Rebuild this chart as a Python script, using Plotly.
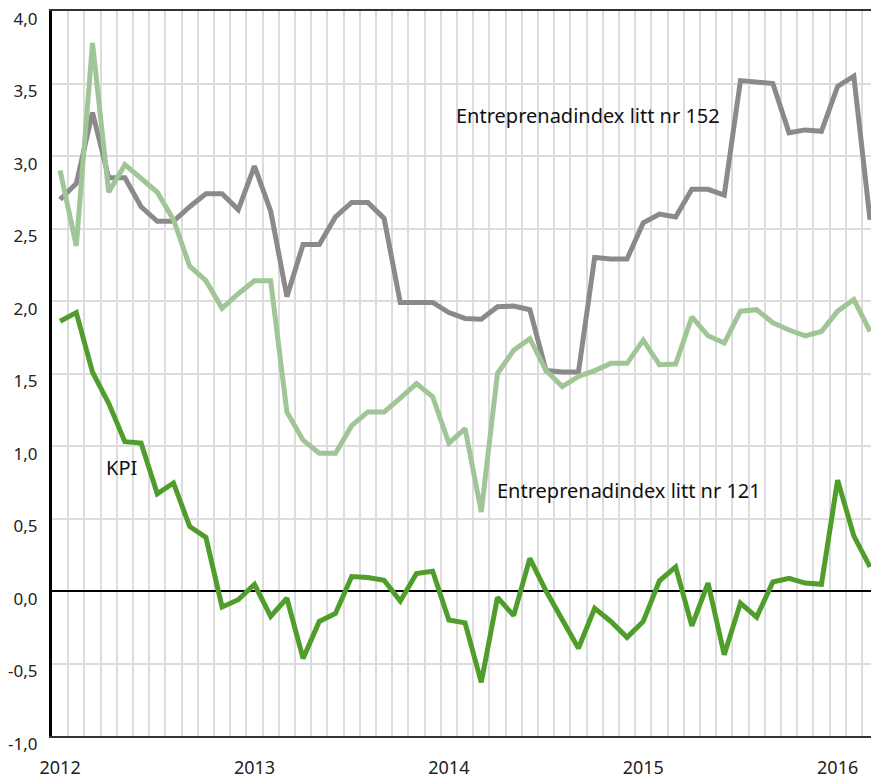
import plotly.graph_objects as go

months = list(range(51))  # Jan 2012 .. Mar 2016

idx152 = [2.70, 2.81, 3.30, 2.85, 2.85, 2.65, 2.55, 2.55, 2.65, 2.74, 2.74, 2.63,
          2.93, 2.62, 2.03, 2.39, 2.39, 2.58, 2.68, 2.68, 2.57, 1.99, 1.99, 1.99,
          1.92, 1.88, 1.875, 1.96, 1.965, 1.94, 1.52, 1.51, 1.51, 2.30, 2.29, 2.29,
          2.54, 2.60, 2.58, 2.77, 2.77, 2.73, 3.52, 3.51, 3.50, 3.16, 3.18, 3.17,
          3.48, 3.55, 2.56]

idx121 = [2.90, 2.38, 3.78, 2.75, 2.94, 2.85, 2.75, 2.56, 2.24, 2.14, 1.95, 2.05,
          2.14, 2.14, 1.235, 1.04, 0.95, 0.95, 1.14, 1.235, 1.235, 1.33, 1.43, 1.34,
          1.02, 1.12, 0.545, 1.50, 1.66, 1.74, 1.52, 1.41, 1.48, 1.52, 1.57, 1.57,
          1.73, 1.56, 1.565, 1.89, 1.76, 1.71, 1.93, 1.94, 1.85, 1.80, 1.76, 1.79,
          1.93, 2.01, 1.79]

kpi = [1.86, 1.92, 1.51, 1.295, 1.03, 1.02, 0.67, 0.745, 0.445, 0.37, -0.11, -0.06,
       0.046, -0.175, -0.05, -0.465, -0.21, -0.155, 0.10, 0.093, 0.074, -0.07, 0.12, 0.136,
       -0.20, -0.22, -0.63, -0.044, -0.17, 0.225, 0.0, -0.20, -0.395, -0.12, -0.21, -0.32,
       -0.21, 0.07, 0.166, -0.24, 0.055, -0.44, -0.083, -0.18, 0.062, 0.087, 0.055, 0.046,
       0.765, 0.38, 0.166]

year_pos = [0, 12, 24, 36, 48]
year_labels = ["2012", "2013", "2014", "2015", "2016"]
y_vals = [-1.0, -0.5, 0.0, 0.5, 1.0, 1.5, 2.0, 2.5, 3.0, 3.5, 4.0]
y_text = ["-1,0", "-0,5", "0,0", "0,5", "1,0", "1,5", "2,0", "2,5", "3,0", "3,5", "4,0"]

FONT = "Noto Sans"

fig = go.Figure()
fig.add_trace(go.Scatter(x=months, y=idx152, mode="lines", name="Entreprenadindex litt nr 152",
                         line=dict(color="#8a8a8a", width=5)))
fig.add_trace(go.Scatter(x=months, y=idx121, mode="lines", name="Entreprenadindex litt nr 121",
                         line=dict(color="#a0c697", width=5)))
fig.add_trace(go.Scatter(x=months, y=kpi, mode="lines", name="KPI",
                         line=dict(color="#4f9e2c", width=5)))

fig.add_annotation(x=32.56, y=3.28, text="Entreprenadindex litt nr 152", showarrow=False,
                   xanchor="center", yanchor="middle", font=dict(family=FONT, size=20, color="#111"))
fig.add_annotation(x=35.1, y=0.69, text="Entreprenadindex litt nr 121", showarrow=False,
                   xanchor="center", yanchor="middle", font=dict(family=FONT, size=20, color="#111"))
fig.add_annotation(x=3.77, y=0.85, text="KPI", showarrow=False,
                   xanchor="center", yanchor="middle", font=dict(family=FONT, size=20, color="#111"))

fig.update_layout(
    width=871, height=781,
    margin=dict(l=52, r=0, t=11, b=45),
    paper_bgcolor="white", plot_bgcolor="white",
    showlegend=False,
    font=dict(family=FONT, size=18, color="#222"),
)
fig.update_xaxes(
    range=[-0.5, 50.06], automargin=False,
    tickvals=year_pos, ticktext=year_labels, tickfont=dict(size=18),
    showgrid=False, zeroline=False,
    showline=True, linecolor="#333", linewidth=2, mirror=True,
    ticks="", ticklabelstandoff=14,
    minor=dict(tick0=-0.5, dtick=1, showgrid=True, gridcolor="#dcdcdc", gridwidth=1.5, ticks=""),
)
fig.update_yaxes(
    range=[-1.0, 4.0], automargin=False,
    tickvals=y_vals, ticktext=y_text, tickfont=dict(size=17),
    showgrid=True, gridcolor="#dcdcdc", gridwidth=1.5,
    zeroline=True, zerolinecolor="#000", zerolinewidth=2,
    showline=True, linecolor="#000", linewidth=3,
    ticks="", ticklabelstandoff=8, ticklabelshift=8,
    ticklabeloverflow="allow",
)

# remove the browser's default page margin and scrollbars so the figure fills the window
fig.write_html("out.html",
               config={"displayModeBar": False},
               post_script="document.body.style.margin='0';document.body.style.overflow='hidden';")
